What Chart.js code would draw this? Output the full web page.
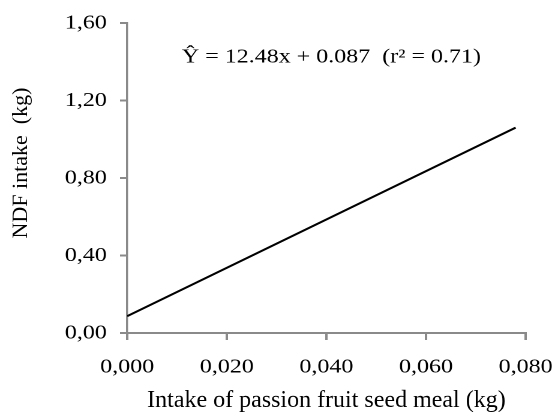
<!DOCTYPE html>
<html lang="en">
<head>
    <meta charset="UTF-8">
    <title>NDF intake</title>
    <script src="https://cdn.jsdelivr.net/npm/chart.js@4.4.1/dist/chart.umd.min.js"></script>
    <style>
        body { margin: 0; background: #fff; }
        #wrap { width: 553px; height: 412px; overflow: hidden; }
        /* the reference type is a little wide, so the canvas is stretched sideways */
        #chart { display: block; transform: scaleX(1.2); transform-origin: 0 0; }
    </style>
</head>
<body>
    <div id="wrap">
        <canvas id="chart" width="461" height="412"></canvas>
    </div>

    <script>
        // fitted line
        const fitX = [0, 0.078];
        const fitY = [0.087, 1.06];

        const xTitle = 'Intake of passion fruit seed meal (kg)';
        const yTitle = 'NDF intake  (kg)';
        const equation = 'Ŷ = 12.48x + 0.087  (r² = 0.71)';
        const equationAt = { x: 0.041, y: 1.395 };

        const stretch = 1.2;
        const serif = "'Liberation Serif', 'Times New Roman', serif";
        const axisGrey = '#8a8a8a';

        // equation + axis titles (titles drawn without the sideways stretch)
        const textLayer = {
            id: 'textLayer',
            afterDraw(chart) {
                const ctx = chart.ctx;
                const area = chart.chartArea;

                ctx.save();
                ctx.fillStyle = '#000';
                ctx.font = '20px ' + serif;
                ctx.textAlign = 'center';
                ctx.textBaseline = 'alphabetic';
                ctx.fillText(equation,
                    chart.scales.x.getPixelForValue(equationAt.x),
                    chart.scales.y.getPixelForValue(equationAt.y));
                ctx.restore();

                ctx.save();
                ctx.fillStyle = '#000';
                ctx.font = '24px ' + serif;
                ctx.textAlign = 'center';
                ctx.textBaseline = 'alphabetic';
                ctx.translate((area.left + area.right) / 2, chart.height - 5);
                ctx.scale(1 / stretch, 1);
                ctx.fillText(xTitle, 0, 0);
                ctx.restore();

                ctx.save();
                ctx.fillStyle = '#000';
                ctx.font = '22px ' + serif;
                ctx.textAlign = 'center';
                ctx.textBaseline = 'alphabetic';
                ctx.translate(27 / stretch, (area.top + area.bottom) / 2 - 15);
                ctx.scale(1 / stretch, 1);
                ctx.rotate(-Math.PI / 2);
                ctx.fillText(yTitle, 0, 0);
                ctx.restore();
            }
        };

        const comma = (v, d) => v.toFixed(d).replace('.', ',');

        new Chart(document.getElementById('chart'), {
            type: 'scatter',
            data: {
                datasets: [{
                    data: fitX.map((x, i) => ({ x: x, y: fitY[i] })),
                    showLine: true,
                    borderColor: '#000',
                    borderWidth: 2,
                    pointRadius: 0,
                    fill: false
                }]
            },
            options: {
                responsive: false,
                animation: false,
                devicePixelRatio: 2,
                layout: { padding: { top: 22, right: 23, bottom: 0, left: 0 } },
                plugins: {
                    legend: { display: false },
                    tooltip: { enabled: false }
                },
                scales: {
                    x: {
                        type: 'linear',
                        min: 0,
                        max: 0.08,
                        afterFit: (scale) => {
                            scale.height = 79;
                            // keep the end labels from squeezing the plot
                            scale.paddingLeft = 0;
                            scale.paddingRight = 0;
                        },
                        ticks: {
                            stepSize: 0.02,
                            color: '#000',
                            padding: 15,
                            font: { family: serif, size: 20 },
                            callback: (v) => comma(v, 3)
                        },
                        grid: { drawOnChartArea: false, drawTicks: true, tickLength: 7, color: axisGrey, lineWidth: 2 },
                        border: { display: true, color: axisGrey, width: 2 }
                    },
                    y: {
                        min: 0,
                        max: 1.6,
                        afterFit: (scale) => { scale.width = 106; },
                        ticks: {
                            stepSize: 0.4,
                            color: '#000',
                            padding: 11,
                            font: { family: serif, size: 20 },
                            callback: (v) => comma(v, 2)
                        },
                        grid: { drawOnChartArea: false, drawTicks: true, tickLength: 6, color: axisGrey, lineWidth: 2 },
                        border: { display: true, color: axisGrey, width: 1.7 }
                    }
                }
            },
            plugins: [textLayer]
        });
    </script>
</body>
</html>
